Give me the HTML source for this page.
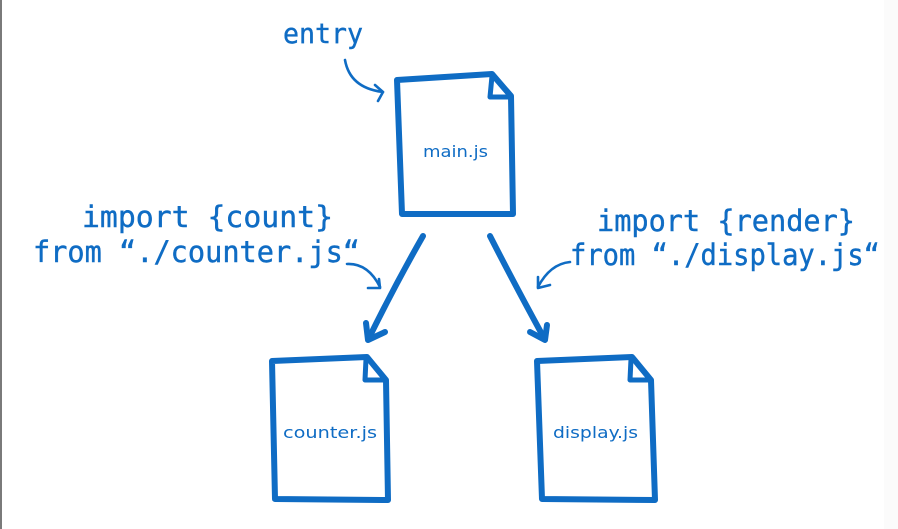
<!DOCTYPE html>
<html>
<head>
<meta charset="utf-8">
<style>
  html, body { margin: 0; padding: 0; background: #ffffff; }
  body { width: 898px; height: 529px; overflow: hidden; }
  svg { display: block; }
  .hand { font-family: "DejaVu Sans Mono", "Liberation Mono", monospace; fill: #0f6cc4; stroke: #0f6cc4; stroke-width: 0.4; }
  .lbl { font-family: "DejaVu Sans", "Liberation Sans", sans-serif; fill: #0f6cc4; }
</style>
</head>
<body>
<svg width="898" height="529" viewBox="0 0 898 529" xmlns="http://www.w3.org/2000/svg">
  <rect x="0" y="0" width="898" height="529" fill="#ffffff"/>
  <rect x="884" y="0" width="14" height="529" fill="#fbfbfb"/>
  <rect x="0" y="0" width="2" height="529" fill="#7a7a7a"/>

  <g fill="none" stroke="#0f6cc4" stroke-linecap="round" stroke-linejoin="round">
    <!-- main.js document -->
    <path d="M397,80 L492,74 L511,96 L513,214 L402,214 Z" stroke-width="6"/>
    <path d="M492,76 L490,97 L510,97" stroke-width="5"/>

    <!-- counter.js document -->
    <path d="M272,361 L367,357 L386,380 L388,500 L275,499 Z" stroke-width="6"/>
    <path d="M366,359 L365,380 L385,380" stroke-width="5"/>

    <!-- display.js document -->
    <path d="M537,361 L632,357 L651,380 L655,500 L542,499 Z" stroke-width="6"/>
    <path d="M631,359 L630,380 L650,380" stroke-width="5"/>

    <!-- big arrows -->
    <path d="M423,236 Q395,285 369,338" stroke-width="6"/>
    <path d="M366,323 L368,340 L385,332" stroke-width="6"/>
    <path d="M490,236 Q515,285 544,338" stroke-width="6"/>
    <path d="M530,332 L545,340 L547,325" stroke-width="6"/>

    <!-- entry curved arrow -->
    <path d="M345,60 Q350,88 383,92" stroke-width="2.6"/>
    <path d="M375,85 L383,92 L378,101" stroke-width="2.6"/>

    <!-- left curved arrow -->
    <path d="M347,264 Q368,263 380,287" stroke-width="2.6"/>
    <path d="M368,288 L380,288 L379,279" stroke-width="2.6"/>

    <!-- right curved arrow -->
    <path d="M570,262 Q550,264 538,287" stroke-width="2.6"/>
    <path d="M538,277 L538,288 L550,285" stroke-width="2.6"/>
  </g>

  <!-- handwritten labels -->
  <text class="hand" x="283" y="43" font-size="28" textLength="80" lengthAdjust="spacingAndGlyphs">entry</text>

  <text class="hand" x="82" y="227" font-size="29" textLength="251" lengthAdjust="spacingAndGlyphs">import {count}</text>
  <text class="hand" x="33" y="262" font-size="29" textLength="327" lengthAdjust="spacingAndGlyphs">from “./counter.js“</text>

  <text class="hand" x="597" y="231" font-size="29" textLength="258" lengthAdjust="spacingAndGlyphs">import {render}</text>
  <text class="hand" x="570" y="265" font-size="29" textLength="310" lengthAdjust="spacingAndGlyphs">from “./display.js“</text>

  <!-- file labels -->
  <text class="lbl" x="423" y="157" font-size="16" textLength="65" lengthAdjust="spacingAndGlyphs">main.js</text>
  <text class="lbl" x="283" y="438" font-size="16" textLength="94" lengthAdjust="spacingAndGlyphs">counter.js</text>
  <text class="lbl" x="553" y="438" font-size="16" textLength="85" lengthAdjust="spacingAndGlyphs">display.js</text>
</svg>
</body>
</html>
